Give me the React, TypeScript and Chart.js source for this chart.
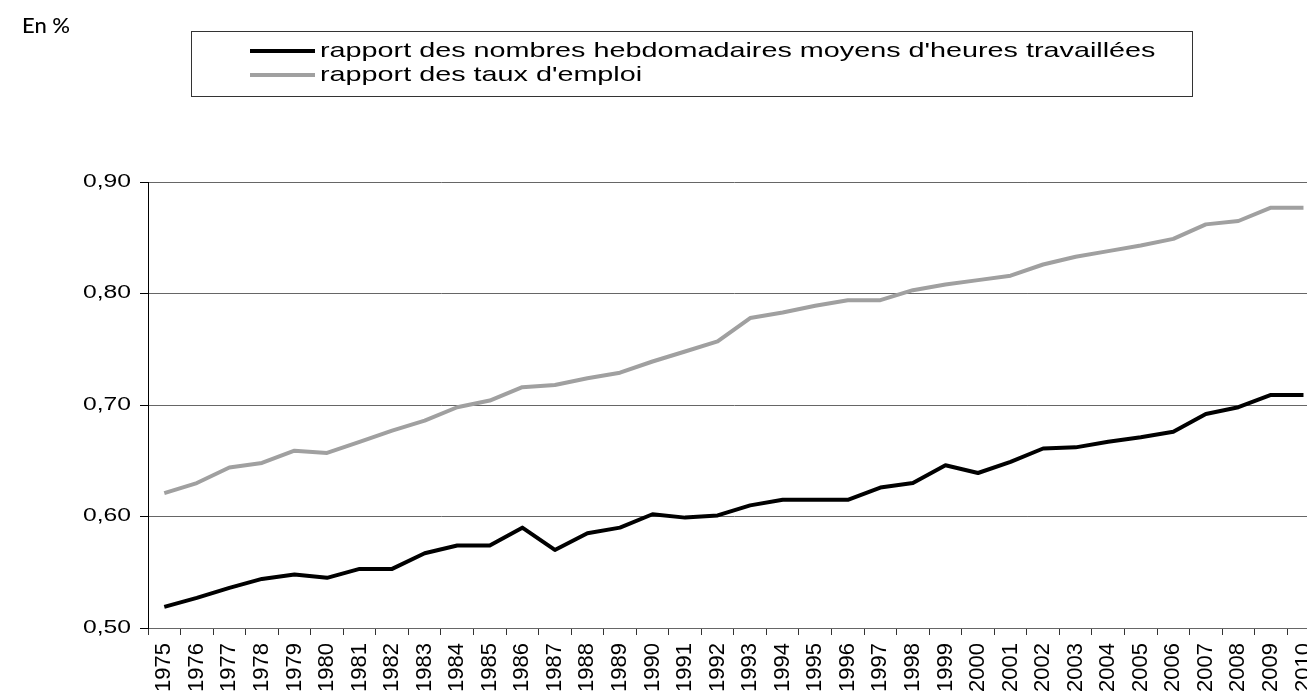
import React, { useEffect, useRef } from 'react';
import { Chart, registerables } from 'chart.js';

Chart.register(...registerables);

const years = [
  '1975', '1976', '1977', '1978', '1979', '1980', '1981', '1982', '1983', '1984',
  '1985', '1986', '1987', '1988', '1989', '1990', '1991', '1992', '1993', '1994',
  '1995', '1996', '1997', '1998', '1999', '2000', '2001', '2002', '2003', '2004',
  '2005', '2006', '2007', '2008', '2009', '2010',
];

const heuresRatio = [
  0.519, 0.527, 0.536, 0.544, 0.548, 0.545, 0.553, 0.553, 0.567, 0.574,
  0.574, 0.590, 0.570, 0.585, 0.590, 0.602, 0.599, 0.601, 0.610, 0.615,
  0.615, 0.615, 0.626, 0.630, 0.646, 0.639, 0.649, 0.661, 0.662, 0.667,
  0.671, 0.676, 0.692, 0.698, 0.709, 0.709,
];

const emploiRatio = [
  0.621, 0.630, 0.644, 0.648, 0.659, 0.657, 0.667, 0.677, 0.686, 0.698,
  0.704, 0.716, 0.718, 0.724, 0.729, 0.739, 0.748, 0.757, 0.778, 0.783,
  0.789, 0.794, 0.794, 0.803, 0.808, 0.812, 0.816, 0.826, 0.833, 0.838,
  0.843, 0.849, 0.862, 0.865, 0.877, 0.877,
];

const yTickValues = [0.5, 0.6, 0.7, 0.8, 0.9];

const seriesLabels = [
  "rapport des nombres hebdomadaires moyens d'heures travaillées",
  "rapport des taux d'emploi",
];

const unitLabel = 'En %';

const FONT = '"Liberation Sans", Arial, Helvetica, sans-serif';
const TEXT_STRETCH = 1.37;
const Y_LABEL_ANCHOR = 131;

export default function App() {
  const ref = useRef<HTMLCanvasElement>(null);

  useEffect(() => {
    const canvas = ref.current;
    if (!canvas) return;

    const boxLegend = {
      id: 'boxLegend',
      afterDraw(chart: any) {
        const ctx = chart.ctx as CanvasRenderingContext2D;
        ctx.save();
        ctx.fillStyle = '#000';
        ctx.textBaseline = 'alphabetic';
        ctx.textAlign = 'left';
        ctx.font = '500 22px Lato, "Open Sans", sans-serif';
        ctx.fillText(unitLabel, 22, 33);

        ctx.strokeStyle = '#333';
        ctx.lineWidth = 1;
        ctx.strokeRect(191.5, 31.5, 1001, 65);

        const rows = [57, 81];
        chart.data.datasets.forEach((ds: any, i: number) => {
          const y = rows[i];
          ctx.strokeStyle = ds.borderColor;
          ctx.lineWidth = ds.borderWidth;
          ctx.lineCap = 'butt';
          ctx.beginPath();
          ctx.moveTo(250, y - 6);
          ctx.lineTo(315, y - 6);
          ctx.stroke();
          ctx.save();
          ctx.translate(320, y);
          ctx.scale(TEXT_STRETCH, 1);
          ctx.font = `21px ${FONT}`;
          ctx.fillStyle = '#000';
          ctx.fillText(ds.label, 0, 0);
          ctx.restore();
        });
        ctx.restore();
      },
    };

    const chart = new Chart(canvas, {
      type: 'line',
      data: {
        labels: years,
        datasets: [
          {
            label: seriesLabels[0],
            data: heuresRatio,
            borderColor: '#000000',
            backgroundColor: '#000000',
            borderWidth: 4,
            pointRadius: 0,
            tension: 0,
            borderJoinStyle: 'round',
          },
          {
            label: seriesLabels[1],
            data: emploiRatio,
            borderColor: '#a0a0a0',
            backgroundColor: '#a0a0a0',
            borderWidth: 4,
            pointRadius: 0,
            tension: 0,
            borderJoinStyle: 'round',
          },
        ],
      },
      options: {
        animation: false,
        responsive: false,
        devicePixelRatio: 1,
        layout: { padding: { top: 182, right: 8, left: 0, bottom: 0 } },
        plugins: {
          legend: { display: false },
          tooltip: { enabled: false },
        },
        scales: {
          x: {
            type: 'category',
            offset: true,
            grid: {
              offset: true,
              drawOnChartArea: false,
              drawTicks: true,
              tickLength: 7,
              color: '#333',
              tickColor: '#333',
            },
            border: { color: '#666', width: 1 },
            ticks: {
              autoSkip: false,
              minRotation: 90,
              maxRotation: 90,
              padding: 8,
              color: '#000',
              font: { family: FONT, size: 22 },
            },
            afterFit: (s: any) => {
              s.height = 63;
            },
          },
          y: {
            min: 0.5,
            max: 0.9,
            afterBuildTicks: (s: any) => {
              s.ticks = yTickValues.map((v) => ({ value: v }));
            },
            grid: {
              color: '#666',
              tickColor: '#000',
              tickLength: 8,
              lineWidth: 1,
            },
            border: { color: '#000', width: 1 },
            ticks: {
              padding: 9,
              color: '#000',
              font: { family: FONT, size: 18 },
              callback: (v: any) => Number(v).toFixed(2).replace('.', ','),
            },
            afterFit: (s: any) => {
              s.width = 148;
              if (!s.__stretched) {
                const orig = s.drawLabels.bind(s);
                s.drawLabels = (area: any) => {
                  const ctx = s.ctx as CanvasRenderingContext2D;
                  ctx.save();
                  ctx.translate(Y_LABEL_ANCHOR, 0);
                  ctx.scale(TEXT_STRETCH, 1);
                  ctx.translate(-Y_LABEL_ANCHOR, 0);
                  orig(area);
                  ctx.restore();
                };
                s.__stretched = true;
              }
            },
          },
        },
      },
      plugins: [boxLegend],
    } as any);

    return () => chart.destroy();
  }, []);

  return (
    <div
      style={{
        position: 'fixed',
        left: 0,
        top: 0,
        width: '100vw',
        height: '100vh',
        overflow: 'hidden',
        background: '#fff',
      }}
    >
      <canvas ref={ref} width={1338} height={691} style={{ display: 'block' }} />
    </div>
  );
}
